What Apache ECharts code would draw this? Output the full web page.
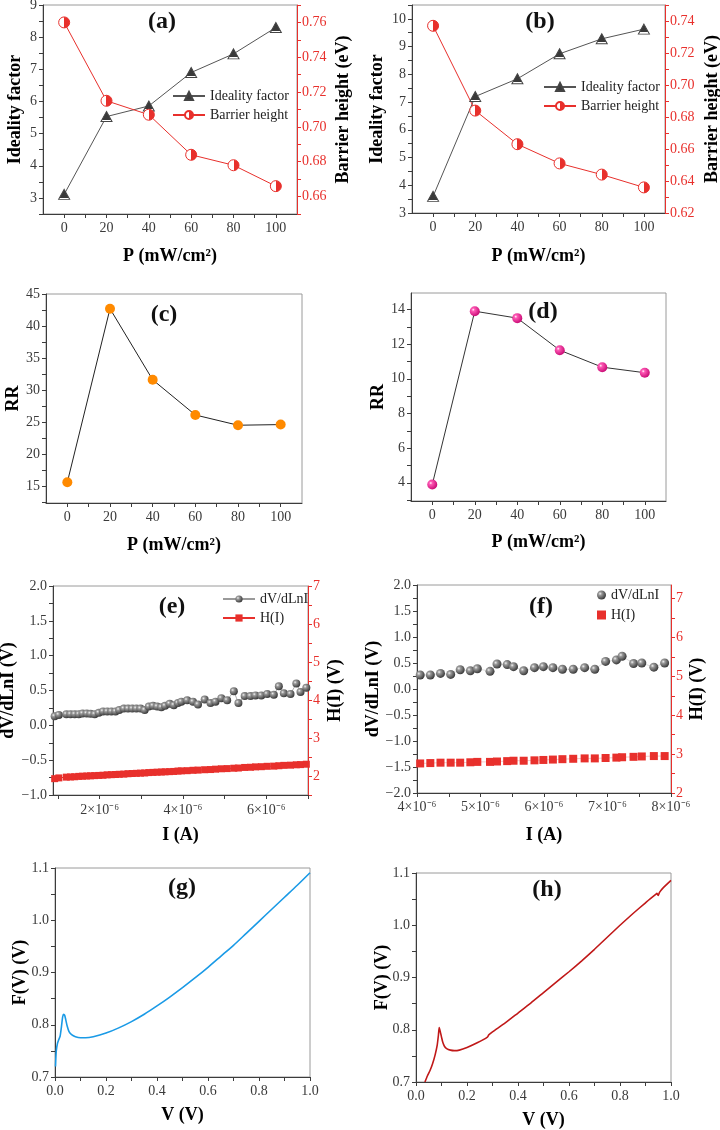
<!DOCTYPE html>
<html lang="en">
<head>
<meta charset="utf-8">
<title>Ideality factor / barrier height / RR / Cheung / Norde</title>
<script src="https://cdn.jsdelivr.net/npm/echarts@6.0.0/dist/echarts.min.js"></script>
<style>
    html, body { margin: 0; padding: 0; background: #fff; }
    #main { width: 720px; height: 1130px; }
</style>
</head>
<body>
<div id="main"></div>
<script>
    // ---- data ----
    // light power density P (mW/cm2)
    var power = [0, 20, 40, 60, 80, 100];
    var idealityA = [3.11, 5.53, 5.86, 6.90, 7.48, 8.30];
    var barrierA = [0.760, 0.715, 0.707, 0.684, 0.678, 0.666];
    var idealityB = [3.60, 7.20, 7.84, 8.74, 9.28, 9.63];
    var barrierB = [0.737, 0.684, 0.663, 0.651, 0.644, 0.636];
    var rrC = [15.6, 42.7, 31.6, 26.1, 24.5, 24.6];
    var rrD = [3.9, 13.9, 13.5, 11.65, 10.67, 10.35];

    // (e) Cheung plot, current in A
    var currentE = [0.92e-6, 1.02e-6, 1.20e-6, 1.30e-6, 1.40e-6, 1.50e-6, 1.59e-6, 1.69e-6, 1.78e-6, 1.88e-6,
        1.98e-6, 2.08e-6, 2.18e-6, 2.28e-6, 2.38e-6, 2.47e-6, 2.58e-6, 2.68e-6, 2.78e-6, 2.88e-6,
        2.98e-6, 3.08e-6, 3.18e-6, 3.28e-6, 3.38e-6, 3.48e-6, 3.57e-6, 3.68e-6, 3.78e-6, 3.88e-6,
        3.96e-6, 4.10e-6, 4.24e-6, 4.36e-6, 4.52e-6, 4.66e-6, 4.78e-6, 4.92e-6, 5.06e-6, 5.22e-6,
        5.33e-6, 5.48e-6, 5.62e-6, 5.74e-6, 5.88e-6, 6.02e-6, 6.18e-6, 6.30e-6, 6.42e-6, 6.58e-6,
        6.72e-6, 6.82e-6, 6.96e-6];
    var dvdlnE = [0.13, 0.15, 0.16, 0.16, 0.16, 0.16, 0.17, 0.17, 0.165, 0.16,
        0.18, 0.20, 0.20, 0.20, 0.20, 0.22, 0.24, 0.24, 0.24, 0.24,
        0.24, 0.22, 0.27, 0.28, 0.27, 0.26, 0.28, 0.31, 0.29, 0.32,
        0.34, 0.36, 0.34, 0.30, 0.37, 0.32, 0.34, 0.39, 0.36, 0.49,
        0.32, 0.42, 0.42, 0.43, 0.43, 0.45, 0.44, 0.56, 0.46, 0.45,
        0.60, 0.48, 0.54];
    var hE = [1.93, 1.95, 1.97, 1.975, 1.98, 1.99, 1.995, 2.00, 2.005, 2.01,
        2.015, 2.02, 2.03, 2.035, 2.04, 2.045, 2.05, 2.06, 2.065, 2.07,
        2.075, 2.08, 2.09, 2.095, 2.10, 2.105, 2.11, 2.115, 2.12, 2.13,
        2.135, 2.14, 2.15, 2.155, 2.165, 2.17, 2.18, 2.19, 2.195, 2.205,
        2.21, 2.225, 2.23, 2.24, 2.245, 2.255, 2.26, 2.27, 2.28, 2.285,
        2.295, 2.30, 2.31];

    // (f) Cheung plot
    var currentF = [4.05e-6, 4.21e-6, 4.37e-6, 4.53e-6, 4.68e-6, 4.84e-6, 4.95e-6, 5.15e-6, 5.26e-6, 5.42e-6,
        5.52e-6, 5.68e-6, 5.85e-6, 5.99e-6, 6.14e-6, 6.29e-6, 6.46e-6, 6.64e-6, 6.80e-6, 6.97e-6,
        7.14e-6, 7.23e-6, 7.41e-6, 7.54e-6, 7.73e-6, 7.90e-6];
    var dvdlnF = [0.27, 0.27, 0.30, 0.28, 0.37, 0.35, 0.39, 0.34, 0.48, 0.47,
        0.43, 0.35, 0.41, 0.43, 0.41, 0.38, 0.38, 0.41, 0.38, 0.53,
        0.56, 0.63, 0.49, 0.50, 0.42, 0.50];
    var hF = [2.76, 2.77, 2.78, 2.78, 2.78, 2.79, 2.80, 2.80, 2.81, 2.82,
        2.83, 2.83, 2.84, 2.85, 2.86, 2.87, 2.88, 2.89, 2.89, 2.90,
        2.91, 2.92, 2.93, 2.94, 2.95, 2.95];

    // (g), (h) Norde functions
    var voltG = [0.002, 0.005, 0.01, 0.015, 0.02, 0.025, 0.03, 0.034, 0.038, 0.042, 0.048, 0.055, 0.065, 0.08,
        0.1, 0.12, 0.15, 0.2, 0.25, 0.3, 0.35, 0.4, 0.45, 0.5, 0.55, 0.6, 0.65, 0.7, 0.75, 0.8, 0.85, 0.9, 0.95, 1.0];
    var nordeG = [0.72, 0.75, 0.765, 0.772, 0.778, 0.795, 0.815, 0.82, 0.818, 0.81, 0.797, 0.787, 0.781, 0.777,
        0.775, 0.775, 0.777, 0.784, 0.794, 0.806, 0.820, 0.836, 0.853, 0.871, 0.890, 0.910, 0.931, 0.952, 0.975, 0.998, 1.021, 1.044, 1.067, 1.091];
    var voltH = [0.035, 0.045, 0.055, 0.065, 0.075, 0.083, 0.088, 0.091, 0.095, 0.1, 0.105, 0.112, 0.12, 0.135,
        0.15, 0.17, 0.2, 0.24, 0.28, 0.285, 0.29, 0.3, 0.35, 0.4, 0.45, 0.5, 0.55, 0.6, 0.65, 0.7, 0.75, 0.8,
        0.85, 0.9, 0.94, 0.945, 0.95, 0.955, 0.97, 1.0];
    var nordeH = [0.70, 0.712, 0.722, 0.735, 0.752, 0.77, 0.79, 0.804, 0.797, 0.786, 0.776, 0.768, 0.764, 0.761,
        0.760, 0.761, 0.766, 0.775, 0.786, 0.790, 0.792, 0.796, 0.813, 0.832, 0.851, 0.871, 0.891, 0.911, 0.932,
        0.954, 0.977, 1.0, 1.022, 1.043, 1.059, 1.061, 1.057, 1.063, 1.072, 1.086];

    // ---- tick values ----
    var pLabels = [0, 20, 40, 60, 80, 100];
    var pTicks = [0, 10, 20, 30, 40, 50, 60, 70, 80, 90, 100];
    var idealLabelsA = [3, 4, 5, 6, 7, 8, 9];
    var idealTicksA = [2.5, 3, 3.5, 4, 4.5, 5, 5.5, 6, 6.5, 7, 7.5, 8, 8.5, 9];
    var barrierLabelsA = [0.66, 0.68, 0.70, 0.72, 0.74, 0.76];
    var barrierTicksA = [0.65, 0.66, 0.67, 0.68, 0.69, 0.70, 0.71, 0.72, 0.73, 0.74, 0.75, 0.76, 0.77];
    var idealLabelsB = [3, 4, 5, 6, 7, 8, 9, 10];
    var idealTicksB = [3, 3.5, 4, 4.5, 5, 5.5, 6, 6.5, 7, 7.5, 8, 8.5, 9, 9.5, 10, 10.5];
    var barrierLabelsB = [0.62, 0.64, 0.66, 0.68, 0.70, 0.72, 0.74];
    var barrierTicksB = [0.62, 0.63, 0.64, 0.65, 0.66, 0.67, 0.68, 0.69, 0.70, 0.71, 0.72, 0.73, 0.74, 0.75];
    var rrLabelsC = [15, 20, 25, 30, 35, 40, 45];
    var rrTicksC = [12.5, 15, 17.5, 20, 22.5, 25, 27.5, 30, 32.5, 35, 37.5, 40, 42.5, 45];
    var rrLabelsD = [4, 6, 8, 10, 12, 14];
    var rrTicksD = [3, 4, 5, 6, 7, 8, 9, 10, 11, 12, 13, 14, 15];
    var dvLabelsE = [-1.0, -0.5, 0.0, 0.5, 1.0, 1.5, 2.0];
    var dvTicksE = [-1.0, -0.75, -0.5, -0.25, 0, 0.25, 0.5, 0.75, 1.0, 1.25, 1.5, 1.75, 2.0];
    var hLabelsE = [2, 3, 4, 5, 6, 7];
    var hTicksE = [1.5, 2, 2.5, 3, 3.5, 4, 4.5, 5, 5.5, 6, 6.5, 7];
    var iLabelsE = [2e-6, 4e-6, 6e-6];
    var iTicksE = [1e-6, 2e-6, 3e-6, 4e-6, 5e-6, 6e-6, 7e-6];
    var dvLabelsF = [-2.0, -1.5, -1.0, -0.5, 0.0, 0.5, 1.0, 1.5, 2.0];
    var dvTicksF = [-2.0, -1.75, -1.5, -1.25, -1.0, -0.75, -0.5, -0.25, 0, 0.25, 0.5, 0.75, 1.0, 1.25, 1.5, 1.75, 2.0];
    var hLabelsF = [2, 3, 4, 5, 6, 7];
    var hTicksF = [2, 2.5, 3, 3.5, 4, 4.5, 5, 5.5, 6, 6.5, 7];
    var iLabelsF = [4e-6, 5e-6, 6e-6, 7e-6, 8e-6];
    var iTicksF = [4e-6, 4.5e-6, 5e-6, 5.5e-6, 6e-6, 6.5e-6, 7e-6, 7.5e-6, 8e-6];
    var vLabels = [0, 0.2, 0.4, 0.6, 0.8, 1.0];
    var vTicks = [0, 0.1, 0.2, 0.3, 0.4, 0.5, 0.6, 0.7, 0.8, 0.9, 1.0];
    var fLabels = [0.7, 0.8, 0.9, 1.0, 1.1];
    var fTicks = [0.7, 0.75, 0.8, 0.85, 0.9, 0.95, 1.0, 1.05, 1.1];

    var serif = '"Liberation Serif", "Times New Roman", Times, serif';
    var red = '#e8302c';
    var axisGrey = '#3c3c3c';

    function zip(xs, ys) {
        return xs.map(function (x, i) { return [x, ys[i]]; });
    }

    function fix(n) {
        return function (v) { return v.toFixed(n).replace('-', '\u2212'); };
    }

    function micro(v) {
        return Math.round(v * 1e6) + '\u00d710\u207b\u2076';
    }

    function axis(o) {
        var c = o.color || axisGrey;
        return {
            type: 'value',
            gridIndex: o.grid,
            position: o.position,
            min: o.min,
            max: o.max,
            name: o.name,
            nameLocation: 'middle',
            nameGap: o.gap,
            nameMoveOverlap: false,
            nameTextStyle: {fontFamily: serif, fontWeight: 'bold', fontSize: 18, color: '#000'},
            axisLine: {show: true, onZero: false, lineStyle: {color: c, width: 1}},
            axisTick: {show: true, length: 4, customValues: o.ticks, lineStyle: {color: c}},
            axisLabel: {
                show: true, customValues: o.labels, margin: o.margin || 6, hideOverlap: false,
                fontFamily: serif, fontSize: 14, color: o.labelColor || '#3a3a3a', formatter: o.fmt
            },
            splitLine: {show: false}
        };
    }

    // half-filled markers: dark top on triangles, red right half on circles
    var triFill = {
        type: 'linear', x: 0, y: 0, x2: 0, y2: 1,
        colorStops: [{offset: 0, color: '#3a3a3a'}, {offset: 0.8, color: '#3a3a3a'},
            {offset: 0.8, color: '#ffffff'}, {offset: 1, color: '#ffffff'}]
    };
    var halfFill = {
        type: 'linear', x: 0, y: 0, x2: 1, y2: 0,
        colorStops: [{offset: 0, color: '#ffffff'}, {offset: 0.5, color: '#ffffff'},
            {offset: 0.5, color: red}, {offset: 1, color: red}]
    };
    var pinkBall = {
        type: 'radial', x: 0.35, y: 0.35, r: 0.75,
        colorStops: [{offset: 0, color: '#ffffff'}, {offset: 0.2, color: '#ff5ab6'}, {offset: 1, color: '#c2006c'}]
    };
    var greyBall = {
        type: 'radial', x: 0.35, y: 0.35, r: 0.75,
        colorStops: [{offset: 0, color: '#f2f2f2'}, {offset: 0.25, color: '#9a9a9a'}, {offset: 1, color: '#2a2a2a'}]
    };

    var grids = [
        {left: 43, top: 5, width: 254, height: 209},
        {left: 412, top: 5, width: 253, height: 208},
        {left: 46, top: 294, width: 256, height: 209},
        {left: 411, top: 293, width: 255, height: 208},
        {left: 53, top: 586, width: 255, height: 209},
        {left: 417, top: 585, width: 254, height: 208},
        {left: 55, top: 868, width: 255, height: 209},
        {left: 416, top: 873, width: 255, height: 209}
    ].map(function (g) {
        g.show = true;
        g.borderColor = '#9a9a9a';
        g.borderWidth = 1;
        g.containLabel = false;
        g.outerBoundsMode = 'none';
        return g;
    });

    var xAxes = [
        axis({grid: 0, position: 'bottom', min: -10, max: 110, labels: pLabels, ticks: pTicks, name: 'P (mW/cm\u00b2)', gap: 33, margin: 7}),
        axis({grid: 1, position: 'bottom', min: -10, max: 110, labels: pLabels, ticks: pTicks, name: 'P (mW/cm\u00b2)', gap: 34, margin: 7}),
        axis({grid: 2, position: 'bottom', min: -10, max: 110, labels: pLabels, ticks: pTicks, name: 'P (mW/cm\u00b2)', gap: 33, margin: 7}),
        axis({grid: 3, position: 'bottom', min: -10, max: 110, labels: pLabels, ticks: pTicks, name: 'P (mW/cm\u00b2)', gap: 32, margin: 7}),
        axis({grid: 4, position: 'bottom', min: 0.88e-6, max: 7e-6, labels: iLabelsE, ticks: iTicksE, name: 'I (A)', gap: 31, margin: 8, fmt: micro}),
        axis({grid: 5, position: 'bottom', min: 4e-6, max: 8e-6, labels: iLabelsF, ticks: iTicksF, name: 'I (A)', gap: 33, margin: 7, fmt: micro}),
        axis({grid: 6, position: 'bottom', min: 0, max: 1, labels: vLabels, ticks: vTicks, name: 'V (V)', gap: 29, margin: 7, fmt: fix(1)}),
        axis({grid: 7, position: 'bottom', min: 0, max: 1, labels: vLabels, ticks: vTicks, name: 'V (V)', gap: 29, margin: 7, fmt: fix(1)})
    ];

    var yAxes = [
        axis({grid: 0, position: 'left', min: 2.5, max: 9, labels: idealLabelsA, ticks: idealTicksA, name: 'Ideality factor', gap: 19}),
        axis({grid: 0, position: 'right', min: 0.65, max: 0.77, labels: barrierLabelsA, ticks: barrierTicksA, name: 'Barrier height (eV)', gap: 37, color: red, labelColor: red, fmt: fix(2), margin: 5}),
        axis({grid: 1, position: 'left', min: 3, max: 10.5, labels: idealLabelsB, ticks: idealTicksB, name: 'Ideality factor', gap: 26}),
        axis({grid: 1, position: 'right', min: 0.62, max: 0.75, labels: barrierLabelsB, ticks: barrierTicksB, name: 'Barrier height (eV)', gap: 38, color: red, labelColor: red, fmt: fix(2), margin: 5}),
        axis({grid: 2, position: 'left', min: 12.35, max: 45, labels: rrLabelsC, ticks: rrTicksC, name: 'RR', gap: 24}),
        axis({grid: 3, position: 'left', min: 2.95, max: 14.95, labels: rrLabelsD, ticks: rrTicksD, name: 'RR', gap: 24}),
        axis({grid: 4, position: 'left', min: -1, max: 2, labels: dvLabelsE, ticks: dvTicksE, name: 'dV/dLnI (V)', gap: 36, fmt: fix(1)}),
        axis({grid: 4, position: 'right', min: 1.5, max: 7, labels: hLabelsE, ticks: hTicksE, name: 'H(I) (V)', gap: 18, color: red, labelColor: red, margin: 5}),
        axis({grid: 5, position: 'left', min: -2, max: 2, labels: dvLabelsF, ticks: dvTicksF, name: 'dV/dLnI (V)', gap: 35, fmt: fix(1)}),
        axis({grid: 5, position: 'right', min: 2, max: 7.35, labels: hLabelsF, ticks: hTicksF, name: 'H(I) (V)', gap: 17, color: red, labelColor: red, margin: 5}),
        axis({grid: 6, position: 'left', min: 0.7, max: 1.1, labels: fLabels, ticks: fTicks, name: 'F(V) (V)', gap: 26, fmt: fix(1)}),
        axis({grid: 7, position: 'left', min: 0.7, max: 1.1, labels: fLabels, ticks: fTicks, name: 'F(V) (V)', gap: 25, fmt: fix(1)})
    ];

    var series = [
        {
            name: 'Ideality factor', type: 'line', xAxisIndex: 0, yAxisIndex: 0, data: zip(power, idealityA),
            symbol: 'triangle', symbolSize: [11, 10], lineStyle: {color: '#555', width: 1},
            itemStyle: {color: triFill, borderColor: '#444', borderWidth: 1}
        },
        {
            name: 'Barrier height', type: 'line', xAxisIndex: 0, yAxisIndex: 1, data: zip(power, barrierA),
            symbol: 'circle', symbolSize: 11, lineStyle: {color: red, width: 1},
            itemStyle: {color: halfFill, borderColor: red, borderWidth: 1}
        },
        {
            name: 'Ideality factor', type: 'line', xAxisIndex: 1, yAxisIndex: 2, data: zip(power, idealityB),
            symbol: 'triangle', symbolSize: [11, 10], lineStyle: {color: '#555', width: 1},
            itemStyle: {color: triFill, borderColor: '#444', borderWidth: 1}
        },
        {
            name: 'Barrier height', type: 'line', xAxisIndex: 1, yAxisIndex: 3, data: zip(power, barrierB),
            symbol: 'circle', symbolSize: 11, lineStyle: {color: red, width: 1},
            itemStyle: {color: halfFill, borderColor: red, borderWidth: 1}
        },
        {
            name: 'RR (c)', type: 'line', xAxisIndex: 2, yAxisIndex: 4, data: zip(power, rrC),
            symbol: 'circle', symbolSize: 10, lineStyle: {color: '#222', width: 1},
            itemStyle: {color: '#ff8a00', borderWidth: 0}
        },
        {
            name: 'RR (d)', type: 'line', xAxisIndex: 3, yAxisIndex: 5, data: zip(power, rrD),
            symbol: 'circle', symbolSize: 10, lineStyle: {color: '#333', width: 1},
            itemStyle: {color: pinkBall, borderWidth: 0}
        },
        {
            name: 'dV/dLnI', type: 'line', xAxisIndex: 4, yAxisIndex: 6, data: zip(currentE, dvdlnE),
            symbol: 'circle', symbolSize: 8, showAllSymbol: true, lineStyle: {color: '#9a9a9a', width: 0.8},
            itemStyle: {color: greyBall, borderWidth: 0}
        },
        {
            name: 'H(I)', type: 'line', xAxisIndex: 4, yAxisIndex: 7, data: zip(currentE, hE),
            symbol: 'rect', symbolSize: 7, showAllSymbol: true, lineStyle: {color: red, width: 1},
            itemStyle: {color: red, borderWidth: 0}
        },
        {
            name: 'dV/dLnI', type: 'line', xAxisIndex: 5, yAxisIndex: 8, data: zip(currentF, dvdlnF),
            symbol: 'circle', symbolSize: 9, showAllSymbol: true, lineStyle: {color: '#c8c8c8', width: 0.6},
            itemStyle: {color: greyBall, borderWidth: 0}
        },
        {
            name: 'H(I)', type: 'line', xAxisIndex: 5, yAxisIndex: 9, data: zip(currentF, hF),
            symbol: 'rect', symbolSize: 8, showAllSymbol: true, lineStyle: {color: '#f4a0a0', width: 0.6},
            itemStyle: {color: red, borderWidth: 0}
        },
        {
            name: 'F(V) g', type: 'line', xAxisIndex: 6, yAxisIndex: 10, data: zip(voltG, nordeG),
            showSymbol: false, smooth: 0.25, lineStyle: {color: '#1a9ae6', width: 1.6}
        },
        {
            name: 'F(V) h', type: 'line', xAxisIndex: 7, yAxisIndex: 11, data: zip(voltH, nordeH),
            showSymbol: false, smooth: 0.2, lineStyle: {color: '#c01818', width: 1.6}
        }
    ];

    var legendText = {fontFamily: serif, fontSize: 14, color: '#222'};
    var legends = [
        {data: ['Ideality factor', 'Barrier height'], left: 172, top: 89, itemWidth: 32, itemHeight: 10, itemGap: 5},
        {data: ['Ideality factor', 'Barrier height'], left: 543, top: 80, itemWidth: 32, itemHeight: 10, itemGap: 5},
        {data: ['dV/dLnI', 'H(I)'], left: 222, top: 592, itemWidth: 32, itemHeight: 9, itemGap: 5},
        {data: [{name: 'dV/dLnI', icon: 'circle'}, {name: 'H(I)', icon: 'rect'}], left: 597, top: 588, itemWidth: 9, itemHeight: 9, itemGap: 6}
    ].map(function (l) {
        l.orient = 'vertical';
        l.selectedMode = false;
        l.padding = 0;
        l.textStyle = legendText;
        return l;
    });

    var panelTags = [['(a)', 162, 22], ['(b)', 540, 22], ['(c)', 164, 315], ['(d)', 543, 312],
        ['(e)', 172, 607], ['(f)', 541, 607], ['(g)', 182, 888], ['(h)', 547, 890]];

    var chart = echarts.init(document.getElementById('main'), null, {renderer: 'canvas'});
    chart.setOption({
        animation: false,
        backgroundColor: '#ffffff',
        grid: grids,
        xAxis: xAxes,
        yAxis: yAxes,
        legend: legends,
        series: series,
        graphic: panelTags.map(function (t) {
            return {
                type: 'text', x: t[1], y: t[2], z: 100,
                style: {
                    text: t[0], fontFamily: serif, fontSize: 24, fontWeight: 'bold', fill: '#111',
                    align: 'center', verticalAlign: 'middle'
                }
            };
        })
    });
</script>
</body>
</html>
